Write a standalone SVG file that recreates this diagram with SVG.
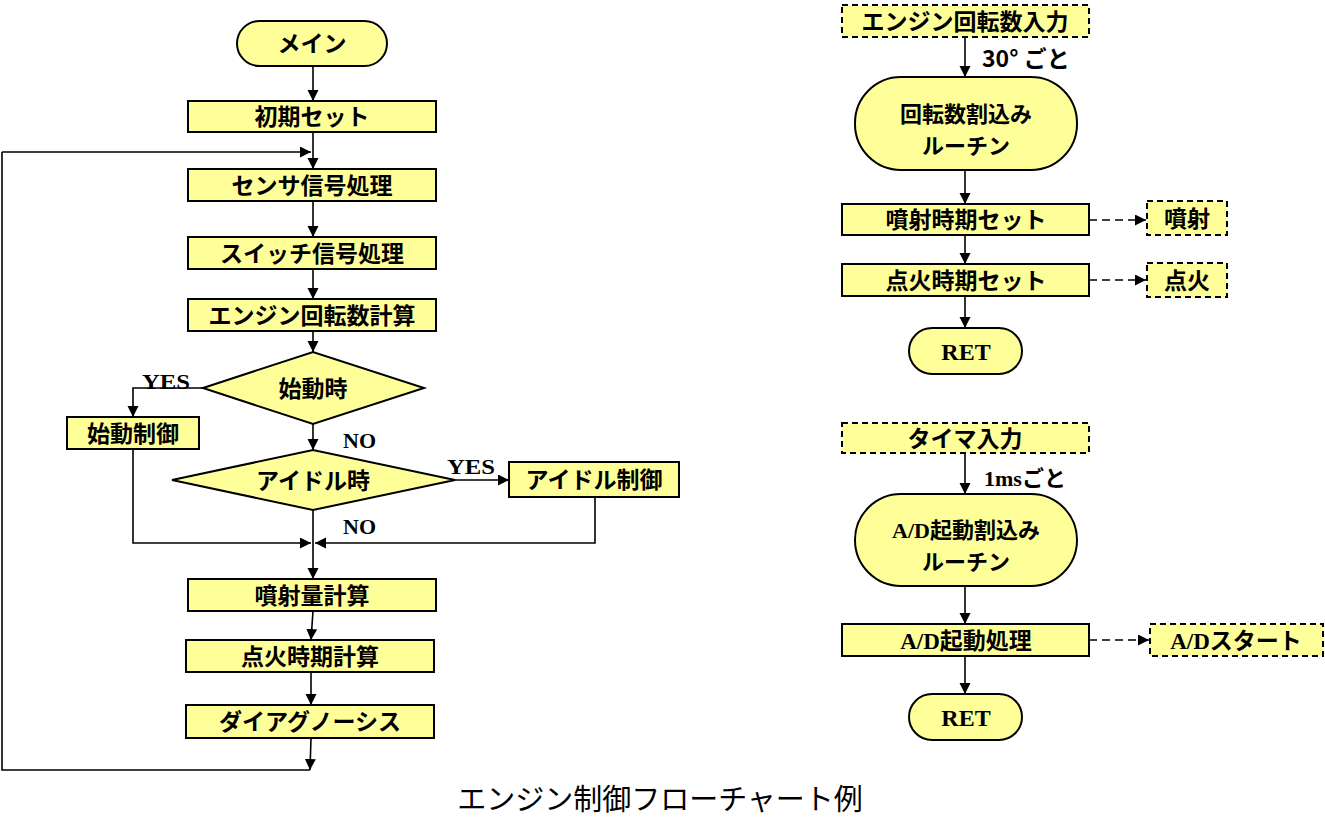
<svg xmlns="http://www.w3.org/2000/svg" width="1325" height="838" viewBox="0 0 1325 838">
<defs>
<marker id="ah" markerUnits="userSpaceOnUse" markerWidth="12" markerHeight="12" refX="11" refY="5.5" orient="auto">
<path d="M0,0 L11,5.5 L0,11 Z" fill="#000"/>
</marker>
<style>
.box{fill:#FFFF99;stroke:#000;stroke-width:2}
.dbox{fill:#FFFF99;stroke:#000;stroke-width:2;stroke-dasharray:6 4}
.jp{font-family:"Noto Sans CJK JP","Noto Sans",sans-serif;font-weight:bold;font-size:23px;text-anchor:middle;fill:#000}
.lat{font-family:"Liberation Serif",serif;font-weight:bold;font-size:22px;fill:#000}
.ln{fill:none;stroke:#000;stroke-width:1.6}
.ar{fill:none;stroke:#000;stroke-width:1.6;marker-end:url(#ah)}
.da{fill:none;stroke:#000;stroke-width:1.6;stroke-dasharray:8 5;marker-end:url(#ah)}
</style>
</defs>
<rect width="1325" height="838" fill="#fff"/>

<g id="connectors">
<path class="ar" d="M313,66 V101"/>
<path class="ar" d="M313,132 V169"/>
<path class="ar" d="M2,152 H311"/>
<path class="ln" d="M2,152 V770 H310"/>
<path class="ar" d="M313,201 V237"/>
<path class="ar" d="M313,269 V299"/>
<path class="ar" d="M313,331 V352"/>
<path class="ar" d="M203,388 H133 V417"/>
<path class="ar" d="M313,424 V450"/>
<path class="ar" d="M455,480 H509"/>
<path class="ar" d="M133,449 V543 H311"/>
<path class="ar" d="M595,497 V543 H315"/>
<path class="ar" d="M313,510 V579"/>
<path class="ar" d="M313,611 L311,640"/>
<path class="ar" d="M311,672 V705"/>
<path class="ar" d="M311,738 L310,770"/>

<path class="ar" d="M965,37 V77"/>
<path class="ar" d="M965,170 V204"/>
<path class="ar" d="M965,235 V264"/>
<path class="ar" d="M965,296 V328"/>
<path class="da" d="M1089,220 H1146"/>
<path class="da" d="M1089,280 H1146"/>

<path class="ar" d="M965,453 V494"/>
<path class="ar" d="M965,586 V624"/>
<path class="ar" d="M965,656 V694"/>
<path class="da" d="M1089,640 H1149"/>
</g>

<g id="labels">
<text class="lat" x="142" y="389" textLength="48" lengthAdjust="spacingAndGlyphs">YES</text>
<text class="lat" x="343" y="448">NO</text>
<text class="lat" x="447" y="474" textLength="48" lengthAdjust="spacingAndGlyphs">YES</text>
<text class="lat" x="343" y="534">NO</text>
<text x="982" y="67" style="font-family:'Noto Sans CJK JP',sans-serif;font-weight:bold;font-size:23px">30°  ごと</text>
<text x="984" y="486" style="font-family:'Noto Sans CJK JP',sans-serif;font-weight:bold;font-size:22px"><tspan style="font-family:'Liberation Serif',serif">1ms</tspan>ごと</text>
</g>

<g id="main"><rect class="box" x="237" y="21" width="150" height="45" rx="22.5"/><text class="jp" x="312" y="52">メイン</text></g>
<g id="init"><rect class="box" x="188" y="101" width="248" height="31"/><text class="jp" x="312" y="125">初期セット</text></g>
<g id="sensor"><rect class="box" x="188" y="169" width="248" height="32"/><text class="jp" x="312" y="194">センサ信号処理</text></g>
<g id="switch"><rect class="box" x="188" y="237" width="248" height="32"/><text class="jp" x="312" y="262">スイッチ信号処理</text></g>
<g id="rpm"><rect class="box" x="188" y="299" width="248" height="32"/><text class="jp" x="312" y="324">エンジン回転数計算</text></g>
<g id="start-q"><polygon class="box" points="203,388 313,352 424,388 313,424"/><text class="jp" x="313" y="397">始動時</text></g>
<g id="start-ctl"><rect class="box" x="67" y="417" width="132" height="32"/><text class="jp" x="133" y="442">始動制御</text></g>
<g id="idle-q"><polygon class="box" points="172,480 313,450 455,480 313,510"/><text class="jp" x="313" y="489">アイドル時</text></g>
<g id="idle-ctl"><rect class="box" x="509" y="462" width="170" height="35"/><text class="jp" x="594" y="488">アイドル制御</text></g>
<g id="inj-calc"><rect class="box" x="188" y="579" width="248" height="32"/><text class="jp" x="312" y="604">噴射量計算</text></g>
<g id="ign-calc"><rect class="box" x="186" y="640" width="248" height="32"/><text class="jp" x="310" y="665">点火時期計算</text></g>
<g id="diag"><rect class="box" x="186" y="705" width="248" height="33"/><text class="jp" x="310" y="730">ダイアグノーシス</text></g>

<g id="rpm-in"><rect class="dbox" x="842" y="5" width="247" height="32"/><text class="jp" x="965" y="30">エンジン回転数入力</text></g>
<g id="rpm-isr"><rect class="box" x="855" y="77" width="222" height="93" rx="46"/><text class="jp" x="966" y="122" style="font-size:22px">回転数割込み</text><text class="jp" x="966" y="154" style="font-size:22px">ルーチン</text></g>
<g id="inj-set"><rect class="box" x="842" y="204" width="247" height="31"/><text class="jp" x="966" y="228">噴射時期セット</text></g>
<g id="inj"><rect class="dbox" x="1147" y="201" width="80" height="34"/><text class="jp" x="1187" y="227">噴射</text></g>
<g id="ign-set"><rect class="box" x="842" y="264" width="247" height="32"/><text class="jp" x="966" y="289">点火時期セット</text></g>
<g id="ign"><rect class="dbox" x="1147" y="263" width="80" height="34"/><text class="jp" x="1187" y="289">点火</text></g>
<g id="ret1"><rect class="box" x="909" y="328" width="113" height="46" rx="23"/><text class="lat" x="966" y="360" text-anchor="middle" style="font-size:24px">RET</text></g>

<g id="timer-in"><rect class="dbox" x="842" y="423" width="247" height="30"/><text class="jp" x="965" y="447">タイマ入力</text></g>
<g id="ad-isr"><rect class="box" x="855" y="494" width="222" height="92" rx="46"/><text class="jp" x="966" y="538" style="font-size:22px"><tspan style="font-family:'Liberation Serif',serif">A/D</tspan>起動割込み</text><text class="jp" x="966" y="570" style="font-size:22px">ルーチン</text></g>
<g id="ad-proc"><rect class="box" x="842" y="624" width="247" height="32"/><text class="jp" x="966" y="649"><tspan style="font-family:'Liberation Serif',serif">A/D</tspan>起動処理</text></g>
<g id="ad-start"><rect class="dbox" x="1150" y="624" width="173" height="32"/><text class="jp" x="1236" y="649"><tspan style="font-family:'Liberation Serif',serif">A/D</tspan>スタート</text></g>
<g id="ret2"><rect class="box" x="909" y="694" width="113" height="46" rx="23"/><text class="lat" x="966" y="726" text-anchor="middle" style="font-size:24px">RET</text></g>

<text x="660" y="810" text-anchor="middle" style="font-family:'Noto Sans CJK JP',sans-serif;font-size:29px;fill:#000">エンジン制御フローチャート例</text>
</svg>
